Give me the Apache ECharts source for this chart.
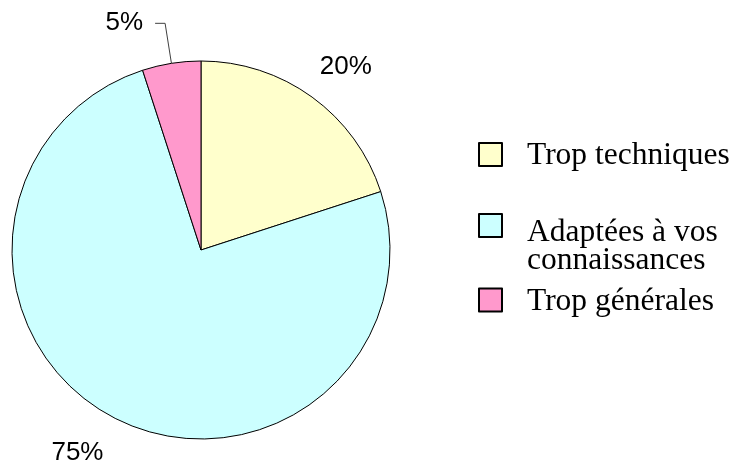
<!DOCTYPE html>
<html>
<head>
<meta charset="utf-8">
<script src="https://cdn.jsdelivr.net/npm/echarts@6/dist/echarts.min.js"></script>
<style>
  html, body { margin: 0; padding: 0; background: #fff; }
  #chart { width: 738px; height: 467px; }
</style>
</head>
<body>
<div id="chart"></div>
<script>
const categories = ['Trop techniques', 'Adaptées à vos\nconnaissances', 'Trop générales'];
const values = [20, 75, 5];
const colors = ['#FFFFCC', '#CCFFFF', '#FF99CC'];

const chart = echarts.init(document.getElementById('chart'), null, { renderer: 'canvas' });

const labelCfg = [
  { line: false, length: 37, length2: 0, dist: 5 },
  { line: false, length: 39, length2: 0, dist: 5 },
  { line: true, length: 40.5, length2: 10, dist: 12 }
];
const labelShift = [{ dx: -19 }, { dx: 11 }, {}];

const legendPad = [
  [7, 0, 7, 20],
  [0, 0, 0, 20],
  [7.5, 0, 7.5, 20]
];

chart.setOption({
  animation: false,
  backgroundColor: '#ffffff',
  legend: {
    orient: 'vertical',
    left: 478,
    top: 132.5,
    padding: 0,
    itemGap: 0,
    itemWidth: 23,
    itemHeight: 23,
    icon: 'rect',
    selectedMode: false,
    itemStyle: { borderColor: '#000000', borderWidth: 2 },
    formatter: function (name) {
      const idx = categories.indexOf(name);
      const lines = name.split('\n').map(s => '{t|' + s + '}');
      return '{g' + idx + '| }\n' + lines.join('\n');
    },
    textStyle: {
      fontFamily: 'Liberation Serif',
      fontSize: 31.5,
      color: '#000000',
      backgroundColor: 'transparent',
      rich: {
        t: { fontFamily: 'Liberation Serif', fontSize: 31.5, lineHeight: 28, color: '#000000' },
        g0: { fontSize: 2, lineHeight: 2 },
        g1: { fontSize: 2, lineHeight: 42 },
        g2: { fontSize: 2, lineHeight: 4 }
      }
    },
    data: categories.map((name, i) => ({
      name: name,
      textStyle: { padding: legendPad[i] }
    }))
  },
  series: [{
    type: 'pie',
    center: [201, 250],
    radius: 189,
    startAngle: 90,
    clockwise: true,
    avoidLabelOverlap: false,
    itemStyle: { borderColor: '#000000', borderWidth: 1 },
    emphasis: { disabled: true },
    label: {
      show: true,
      position: 'outside',
      formatter: '{d}%',
      fontFamily: 'Liberation Sans',
      fontSize: 26,
      color: '#000000'
    },
    labelLayout: function (params) {
      return labelShift[params.dataIndex];
    },
    data: categories.map((name, i) => ({
      name: name,
      value: values[i],
      itemStyle: { color: colors[i] },
      label: { distanceToLabelLine: labelCfg[i].dist },
      labelLine: {
        show: labelCfg[i].line,
        length: labelCfg[i].length,
        length2: labelCfg[i].length2,
        lineStyle: { color: '#404040', width: 1 }
      }
    }))
  }]
});
</script>
</body>
</html>
